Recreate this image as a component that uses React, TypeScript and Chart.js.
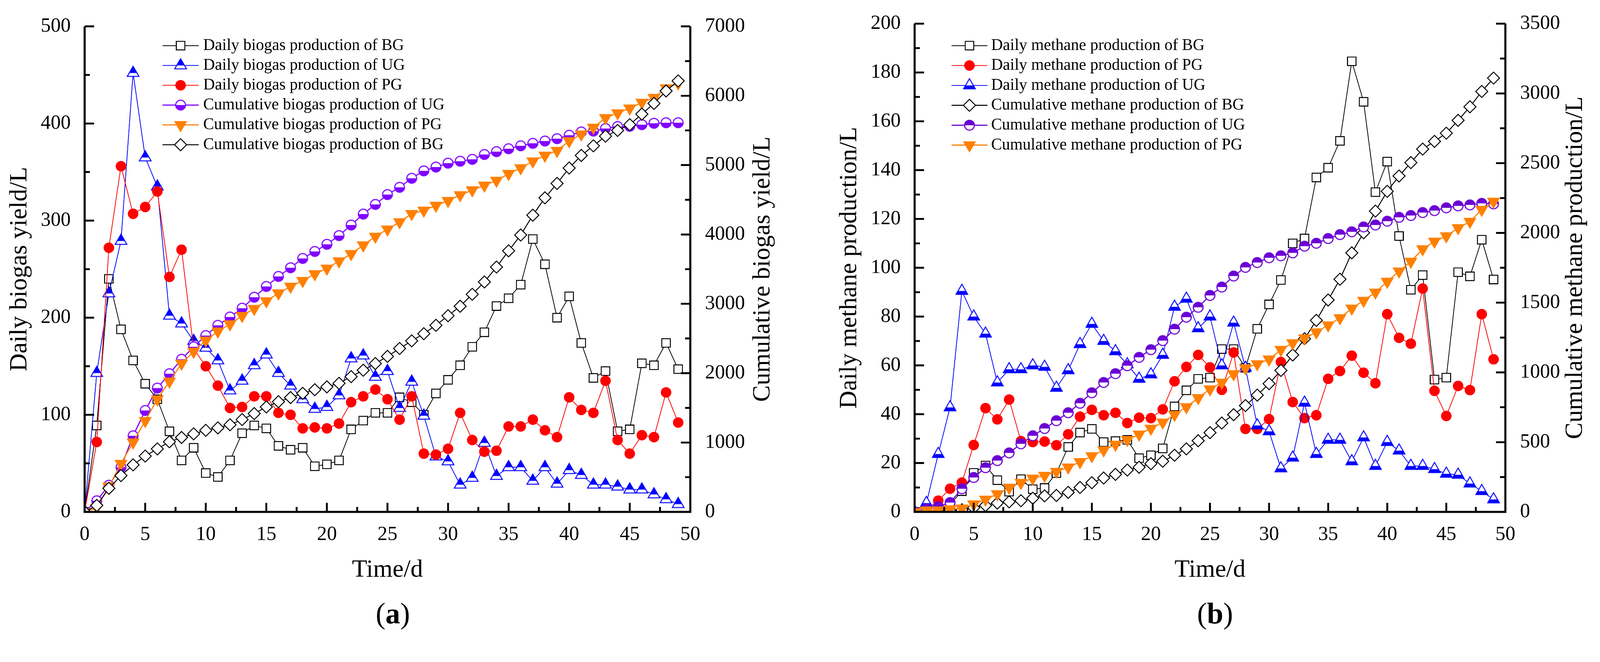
import { useEffect, useRef } from 'react';
import { Chart, registerables } from 'chart.js';
import { drawPoint } from 'chart.js/helpers';

Chart.register(...registerables);

const SERIF = '"Liberation Serif", "Times New Roman", Times, serif';

const days = [
  0, 1, 2, 3, 4, 5, 6, 7, 8, 9, 10, 11, 12, 13, 14, 15, 16, 17, 18, 19, 20, 21, 22, 23, 24,
  25, 26, 27, 28, 29, 30, 31, 32, 33, 34, 35, 36, 37, 38, 39, 40, 41, 42, 43, 44, 45, 46, 47, 48, 49,
];

// (a) biogas, daily values in L (left axis)
const dailyBiogasBG = [
  0, 89, 240, 188, 156, 132, 116, 83, 53, 66, 40, 36, 53, 81, 89, 86, 68, 64, 66, 47, 49, 53, 85, 94, 102,
  102, 118, 113, 100, 122, 136, 151, 170, 185, 212, 220, 234, 281, 255, 200, 222, 174, 138, 145, 83, 85, 153, 151, 174, 147,
];
const dailyBiogasUG = [
  0, 143, 225, 279, 452, 365, 335, 202, 194, 176, 169, 156, 125, 135, 151, 162, 143, 130, 116, 106, 108, 120, 158, 161, 139,
  145, 107, 134, 99, 57, 52, 28, 35, 71, 37, 46, 46, 32, 46, 29, 43, 38, 28, 28, 26, 23, 23, 18, 13, 8,
];
const dailyBiogasPG = [
  0, 72, 272, 356, 307, 314, 330, 242, 270, 168, 150, 130, 107, 108, 119, 119, 102, 100, 86, 87, 86, 91, 113, 119, 126,
  116, 95, 119, 60, 59, 65, 102, 74, 62, 63, 88, 88, 95, 84, 77, 118, 105, 102, 135, 74, 60, 79, 77, 123, 92,
];
// (a) biogas, cumulative values in L (right axis)
const cumBiogasUG = [
  0, 160, 385, 643, 1097, 1462, 1785, 1992, 2201, 2380, 2542, 2690, 2810, 2937, 3095, 3250, 3395, 3520, 3654, 3755, 3858, 3984, 4136, 4294, 4433,
  4575, 4680, 4810, 4917, 4972, 5028, 5056, 5083, 5153, 5194, 5236, 5278, 5314, 5347, 5381, 5431, 5478, 5490, 5528, 5556, 5560, 5583, 5603, 5611, 5611,
];
const cumBiogasPG = [
  0, 60, 368, 695, 1004, 1314, 1624, 1882, 2139, 2311, 2473, 2604, 2707, 2828, 2930, 3040, 3152, 3250, 3332, 3430, 3511, 3615, 3720, 3845, 3971,
  4075, 4180, 4298, 4347, 4417, 4486, 4569, 4639, 4708, 4778, 4875, 4958, 5056, 5139, 5208, 5347, 5444, 5542, 5681, 5750, 5819, 5903, 5972, 6111, 6181,
];
const cumBiogasBG = [
  0, 93, 340, 523, 678, 805, 908, 1011, 1073, 1125, 1176, 1211, 1256, 1331, 1417, 1513, 1589, 1648, 1709, 1761, 1802, 1854, 1950, 2043, 2139,
  2242, 2356, 2466, 2569, 2690, 2828, 2965, 3137, 3315, 3530, 3764, 3992, 4278, 4528, 4736, 4958, 5139, 5278, 5417, 5500, 5583, 5736, 5889, 6069, 6214,
];

// (b) methane, daily values in L (left axis)
const dailyMethaneBG = [
  0, 0.5, 1, 3, 8.5, 16, 19, 13, 8.3, 13.4, 9.3, 9.8, 15.9, 26.6, 32.5, 34, 28.6, 29, 29.5, 22, 23.2, 26, 43.2, 49.8, 54.5,
  55, 66.7, 66.7, 59, 75, 85, 95, 110, 112, 137, 141, 152, 184.6, 168, 131, 143.5, 113, 91, 97, 54.2, 55, 98.2, 96.5, 111.5, 95.2,
];
const dailyMethanePG = [
  0, 1, 4.6, 9.5, 12, 27.4, 42.5, 37.9, 46, 29, 28.6, 28.8, 27.3, 31.8, 39, 41.8, 39.6, 40.6, 36.4, 38.6, 38.4, 42, 53.5, 59.4, 64.3,
  59.2, 50, 65.3, 34, 34, 38, 61.4, 45, 38.4, 39.6, 54.5, 57.7, 64, 57, 52.7, 81, 71.3, 68.9, 91.5, 49.6, 39.3, 51.6, 49.9, 81, 62.5,
];
const dailyMethaneUG = [
  0, 3.6, 23.7, 42.8, 90.5, 80, 73, 53, 58.4, 58.4, 60, 59.4, 50.8, 58, 68.7, 77, 70, 65.8, 60.4, 54.5, 56.3, 64.3, 84, 87.3, 75.2,
  80, 60, 77.5, 59, 35.4, 33, 17.8, 22.2, 44.7, 23.7, 29.5, 29.5, 20.7, 30.5, 18.8, 28.6, 25.1, 18.8, 18.8, 17.5, 15.6, 15.2, 11.6, 8.5, 5.1,
];
// (b) methane, cumulative values in L (right axis)
const cumMethaneBG = [
  0, 0, 0, 5, 15, 30, 46, 63, 72, 80, 98, 115, 118, 140, 175, 209, 243, 269, 300, 320, 346, 363, 406, 452, 510,
  568, 637, 697, 762, 837, 919, 1014, 1125, 1241, 1373, 1519, 1668, 1857, 2001, 2156, 2298, 2408, 2504, 2601, 2656, 2715, 2807, 2904, 3014, 3110,
];
const cumMethaneUG = [
  0, 20, 38, 67, 166, 247, 317, 368, 423, 488, 546, 598, 654, 711, 779, 854, 928, 991, 1048, 1108, 1163, 1228, 1310, 1396, 1467,
  1552, 1612, 1691, 1753, 1788, 1822, 1836, 1857, 1905, 1926, 1960, 1988, 2008, 2043, 2057, 2084, 2112, 2125, 2146, 2160, 2180, 2194, 2201, 2212, 2208,
];
const cumMethanePG = [
  0, 12, 12, 20, 26, 55, 89, 128, 175, 209, 240, 260, 289, 320, 358, 401, 443, 483, 517, 556, 598, 642, 697, 752, 817,
  880, 928, 988, 1031, 1060, 1094, 1163, 1211, 1245, 1288, 1339, 1390, 1459, 1515, 1574, 1651, 1725, 1795, 1884, 1939, 1977, 2036, 2081, 2167, 2225,
];

type Marker = { style: string; r: number; bw: number; fill?: string; rot?: number; top?: boolean };
type Series = { label: string; data: number[]; axis: 'y' | 'y1'; color: string; width: number; marker: Marker };

const seriesA: Series[] = [
  { label: 'Daily biogas production of BG', data: dailyBiogasBG, axis: 'y', color: '#000000', width: 2, marker: { style: 'rect', r: 16, fill: '#ffffff', bw: 2.5 } },
  { label: 'Daily biogas production of UG', data: dailyBiogasUG, axis: 'y', color: '#0000ff', width: 2, marker: { style: 'halfTriangle', r: 18, bw: 2.5, top: true } },
  { label: 'Daily biogas production of PG', data: dailyBiogasPG, axis: 'y', color: '#ff0000', width: 2, marker: { style: 'circle', r: 14, fill: '#ff0000', bw: 0 } },
  { label: 'Cumulative biogas production of UG', data: cumBiogasUG, axis: 'y1', color: '#8000ff', width: 3, marker: { style: 'halfCircle', r: 13, bw: 3, top: false } },
  { label: 'Cumulative biogas production of PG', data: cumBiogasPG, axis: 'y1', color: '#ff8000', width: 3, marker: { style: 'triangle', r: 19, fill: '#ff8000', bw: 1, rot: 180 } },
  { label: 'Cumulative biogas production of BG', data: cumBiogasBG, axis: 'y1', color: '#000000', width: 2.5, marker: { style: 'rectRot', r: 16, fill: '#ffffff', bw: 2.5 } },
];

const seriesB: Series[] = [
  { label: 'Daily methane production of BG', data: dailyMethaneBG, axis: 'y', color: '#000000', width: 2, marker: { style: 'rect', r: 16, fill: '#ffffff', bw: 2.5 } },
  { label: 'Daily methane production of PG', data: dailyMethanePG, axis: 'y', color: '#ff0000', width: 2, marker: { style: 'circle', r: 14, fill: '#ff0000', bw: 0 } },
  { label: 'Daily methane production of UG', data: dailyMethaneUG, axis: 'y', color: '#0000ff', width: 2, marker: { style: 'halfTriangle', r: 18, bw: 2.5, top: false } },
  { label: 'Cumulative methane production of BG', data: cumMethaneBG, axis: 'y1', color: '#000000', width: 2.5, marker: { style: 'rectRot', r: 16, fill: '#ffffff', bw: 2.5 } },
  { label: 'Cumulative methane production of UG', data: cumMethaneUG, axis: 'y1', color: '#6a00d4', width: 3, marker: { style: 'halfCircle', r: 13, bw: 3, top: true } },
  { label: 'Cumulative methane production of PG', data: cumMethanePG, axis: 'y1', color: '#ff8000', width: 3, marker: { style: 'triangle', r: 19, fill: '#ff8000', bw: 1, rot: 180 } },
];

type PanelCfg = {
  left: number; width: number; height: number;
  area: { left: number; right: number; top: number; bottom: number };
  yMax: number; yStep: number; y1Max: number; y1Step: number;
  leftTitle: string; rightTitle: string; leftTitleX: number; rightTitleX: number;
  legend: { x: number; y: number; row: number; lineW: number; textX: number };
  series: Series[];
};

const panelA: PanelCfg = {
  left: 0, width: 2122, height: 1560,
  area: { left: 224.5, right: 1831, top: 70, bottom: 1358 },
  yMax: 500, yStep: 100, y1Max: 7000, y1Step: 1000,
  leftTitle: 'Daily biogas yield/L', rightTitle: 'Cumulative biogas yield/L', leftTitleX: 70, rightTitleX: 2041,
  legend: { x: 431, y: 121, row: 52.6, lineW: 96, textX: 539 },
  series: seriesA,
};

const panelB: PanelCfg = {
  left: 2122, width: 2122, height: 1560,
  area: { left: 304, right: 1871, top: 62, bottom: 1358 },
  yMax: 200, yStep: 20, y1Max: 3500, y1Step: 500,
  leftTitle: 'Daily methane production/L', rightTitle: 'Cumulative methane production/L', leftTitleX: 149, rightTitleX: 2074,
  legend: { x: 402, y: 121, row: 52.8, lineW: 95, textX: 507 },
  series: seriesB,
};

// open marker filled on one half, drawn once on a small canvas and used as pointStyle
function halfMarker(shape: string, color: string, r: number, lw: number, fillTop: boolean) {
  const size = Math.ceil(2 * (r + lw + 3));
  const c = document.createElement('canvas');
  c.width = size;
  c.height = size;
  const g = c.getContext('2d')!;
  const cx = size / 2;
  const cy = size / 2;
  const path = new Path2D();
  if (shape === 'circle') {
    path.arc(cx, cy, r, 0, Math.PI * 2);
  } else {
    for (let k = 0; k < 3; k++) {
      const a = (k * 2 * Math.PI) / 3;
      const px = cx + Math.sin(a) * r;
      const py = cy - Math.cos(a) * r;
      if (k === 0) path.moveTo(px, py);
      else path.lineTo(px, py);
    }
    path.closePath();
  }
  g.fillStyle = '#ffffff';
  g.fill(path);
  g.save();
  g.beginPath();
  g.rect(0, fillTop ? 0 : cy, size, size / 2);
  g.clip();
  g.fillStyle = color;
  g.fill(path);
  g.restore();
  g.lineWidth = lw;
  g.strokeStyle = color;
  g.stroke(path);
  return c;
}

function toDataset(s: Series, i: number, n: number) {
  const m = s.marker;
  let pointStyle: any = m.style;
  if (m.style === 'halfTriangle') pointStyle = halfMarker('triangle', s.color, m.r, m.bw, !!m.top);
  if (m.style === 'halfCircle') pointStyle = halfMarker('circle', s.color, m.r, m.bw, !!m.top);
  return {
    type: 'line' as const,
    label: s.label,
    data: days.map((d, k) => ({ x: d, y: s.data[k] })),
    yAxisID: s.axis,
    borderColor: s.color,
    borderWidth: s.width,
    pointStyle,
    pointRadius: m.r,
    pointRotation: m.rot || 0,
    pointBackgroundColor: m.fill || '#ffffff',
    pointBorderColor: s.color,
    pointBorderWidth: m.bw,
    tension: 0,
    fill: false,
    order: n - i,
  };
}

function makeDecor(p: PanelCfg) {
  return {
    id: 'decor',
    afterDatasetsDraw(chart: any) {
      const { ctx, chartArea: a } = chart;
      const sx = chart.scales.x;
      const sy = chart.scales.y;
      const sy1 = chart.scales.y1;
      ctx.save();
      ctx.strokeStyle = '#000';
      ctx.lineJoin = 'miter';
      ctx.lineWidth = 5.5;
      ctx.beginPath();
      ctx.moveTo(a.left, a.top);
      ctx.lineTo(a.left, a.bottom);
      ctx.lineTo(a.right, a.bottom);
      ctx.lineTo(a.right, a.top);
      ctx.stroke();

      // inward ticks, minor ticks halfway between the major ones
      const seg = (x1: number, y1: number, x2: number, y2: number) => {
        ctx.beginPath();
        ctx.moveTo(x1, y1);
        ctx.lineTo(x2, y2);
        ctx.stroke();
      };
      ctx.lineWidth = 5;
      const xHalf = 2.5;
      for (let k = 0; k * xHalf <= sx.max + 1e-9; k++) {
        const px = sx.getPixelForValue(k * xHalf);
        seg(px, a.bottom, px, a.bottom - (k % 2 === 0 ? 24 : 13));
      }
      for (let k = 0; (k * p.yStep) / 2 <= sy.max + 1e-9; k++) {
        const py = sy.getPixelForValue((k * p.yStep) / 2);
        seg(a.left, py, a.left + (k % 2 === 0 ? 25 : 14), py);
      }
      for (let k = 0; (k * p.y1Step) / 2 <= sy1.max + 1e-9; k++) {
        const py = sy1.getPixelForValue((k * p.y1Step) / 2);
        seg(a.right, py, a.right - (k % 2 === 0 ? 25 : 14), py);
      }

      // axis titles
      ctx.fillStyle = '#000';
      ctx.font = `66px ${SERIF}`;
      ctx.textAlign = 'center';
      ctx.textBaseline = 'alphabetic';
      ctx.fillText('Time/d', (a.left + a.right) / 2, 1530);
      const midY = (a.top + a.bottom) / 2;
      for (const [text, bx] of [[p.leftTitle, p.leftTitleX], [p.rightTitle, p.rightTitleX]] as [string, number][]) {
        ctx.save();
        ctx.translate(bx, midY);
        ctx.rotate(-Math.PI / 2);
        ctx.fillText(text, 0, 0);
        ctx.restore();
      }

      // legend inside the plot
      const L = p.legend;
      chart.data.datasets.forEach((ds: any, i: number) => {
        const ry = L.y + i * L.row;
        ctx.strokeStyle = ds.borderColor;
        ctx.lineWidth = ds.borderWidth;
        seg(L.x, ry, L.x + L.lineW, ry);
        ctx.fillStyle = ds.pointBackgroundColor;
        ctx.strokeStyle = ds.pointBorderColor;
        ctx.lineWidth = ds.pointBorderWidth;
        drawPoint(ctx, {
          pointStyle: ds.pointStyle,
          rotation: ds.pointRotation,
          radius: ds.pointRadius,
          borderWidth: ds.pointBorderWidth,
        } as any, L.x + L.lineW / 2, ry);
        ctx.fillStyle = '#000';
        ctx.font = `43px ${SERIF}`;
        ctx.textAlign = 'left';
        ctx.textBaseline = 'middle';
        ctx.fillText(ds.label, L.textX, ry);
      });
      ctx.restore();
    },
  };
}

function Panel({ cfg }: { cfg: PanelCfg }) {
  const ref = useRef<HTMLCanvasElement | null>(null);

  useEffect(() => {
    if (!ref.current) return;
    const tickFont = { family: SERIF, size: 53 };
    const n = cfg.series.length;
    const chart = new Chart(ref.current, {
      type: 'line',
      data: { datasets: cfg.series.map((s, i) => toDataset(s, i, n)) as any },
      options: {
        responsive: false,
        animation: false,
        devicePixelRatio: 2,
        events: [],
        layout: { padding: { top: cfg.area.top, left: 0, right: 0, bottom: 0 } },
        plugins: { legend: { display: false }, tooltip: { enabled: false } },
        scales: {
          x: {
            type: 'linear',
            min: 0,
            max: 50,
            grid: { display: false },
            border: { display: false },
            ticks: { stepSize: 5, font: tickFont, color: '#000', padding: 21, maxRotation: 0, autoSkip: false, callback: (v: any) => String(v) },
            afterFit: (s: any) => { s.height = cfg.height - cfg.area.bottom; },
          },
          y: {
            type: 'linear',
            position: 'left',
            min: 0,
            max: cfg.yMax,
            grid: { display: false },
            border: { display: false },
            ticks: { stepSize: cfg.yStep, font: tickFont, color: '#000', padding: 29, callback: (v: any) => String(v) },
            afterFit: (s: any) => { s.width = cfg.area.left; },
          },
          y1: {
            type: 'linear',
            position: 'right',
            min: 0,
            max: cfg.y1Max,
            grid: { display: false },
            border: { display: false },
            ticks: { stepSize: cfg.y1Step, font: tickFont, color: '#000', padding: 31, callback: (v: any) => String(v) },
            afterFit: (s: any) => { s.width = cfg.width - cfg.area.right; },
          },
        },
      } as any,
      plugins: [makeDecor(cfg)],
    });
    return () => chart.destroy();
  }, [cfg]);

  return (
    <canvas
      ref={ref}
      width={cfg.width}
      height={cfg.height}
      style={{ position: 'absolute', left: cfg.left, top: 0, width: cfg.width, height: cfg.height }}
    />
  );
}

const captionStyle = {
  position: 'absolute' as const,
  top: 1589,
  width: 200,
  textAlign: 'center' as const,
  fontFamily: SERIF,
  fontSize: 78,
  lineHeight: '78px',
  color: '#000',
};

export default function App() {
  // the figure is laid out in reference pixels; shrink it if the viewport is narrower than the picture
  const vw = typeof window !== 'undefined' ? window.innerWidth : 4244;
  const k = vw > 0 && vw < 4244 ? vw / 4244 : 1;
  return (
    <div
      style={{
        position: 'absolute', left: 0, top: 0, width: 4244, height: 1695, background: '#fff', overflow: 'hidden',
        transform: `scale(${k})`, transformOrigin: '0 0',
      }}
    >
      <Panel cfg={panelA} />
      <Panel cfg={panelB} />
      <div style={{ ...captionStyle, left: 942 }}>(<b>a</b>)</div>
      <div style={{ ...captionStyle, left: 3123 }}>(<b>b</b>)</div>
    </div>
  );
}
